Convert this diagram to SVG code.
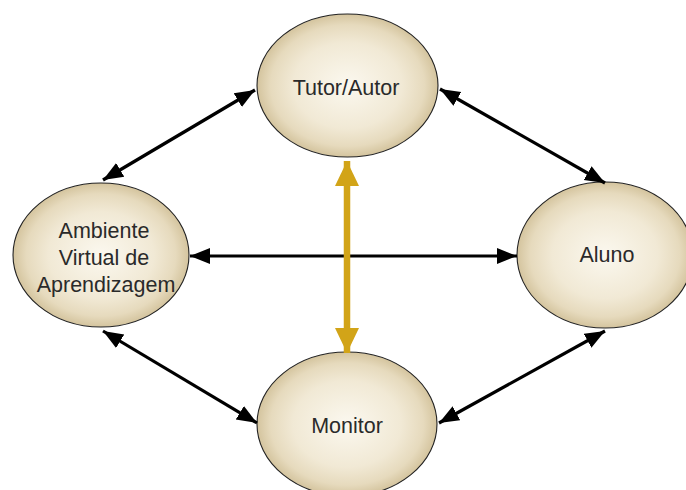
<svg xmlns="http://www.w3.org/2000/svg" width="686" height="490" viewBox="0 0 686 490">
<defs>
<radialGradient id="g" cx="50%" cy="50%" r="50%">
<stop offset="0" stop-color="#fbf8ef"/>
<stop offset="0.6" stop-color="#f1e9d5"/>
<stop offset="0.85" stop-color="#e6dabd"/>
<stop offset="1" stop-color="#d4c49e"/>
</radialGradient>
<marker id="ah" markerUnits="userSpaceOnUse" markerWidth="22" markerHeight="18" refX="20" refY="8" orient="auto-start-reverse" viewBox="0 0 22 16">
<path d="M0,0 L20,8 L0,16 Z" fill="#000"/>
</marker>
<marker id="gh" markerUnits="userSpaceOnUse" markerWidth="26" markerHeight="24" refX="25" refY="12" orient="auto-start-reverse" viewBox="0 0 26 24">
<path d="M0,0 L25,12 L0,24 Z" fill="#d2a418"/>
</marker>
<style>
.n ellipse{fill:url(#g);stroke:#222;stroke-width:1.1}
.n text{font-family:"Liberation Sans",Arial,sans-serif;font-size:21.5px;fill:#2a2a2a;text-anchor:middle}
.c line{stroke:#000;stroke-width:3.2;marker-start:url(#ah);marker-end:url(#ah)}
.c line.gold{stroke:#d2a418;stroke-width:6.5;marker-start:url(#gh);marker-end:url(#gh)}
</style>
</defs>
<rect width="686" height="490" fill="#fff"/>
<g id="n-tutor" class="n"><ellipse cx="347.5" cy="85.5" rx="90.5" ry="71.5"/><text x="346" y="95">Tutor/Autor</text></g>
<g id="n-ambiente" class="n"><ellipse cx="101" cy="255" rx="88" ry="72"/><text x="104" y="238">Ambiente</text><text x="104" y="265">Virtual de</text><text x="106" y="292">Aprendizagem</text></g>
<g id="n-aluno" class="n"><ellipse cx="605" cy="255" rx="88" ry="73"/><text x="607" y="262">Aluno</text></g>
<g id="n-monitor" class="n"><ellipse cx="347" cy="424" rx="90" ry="72"/><text x="347" y="433">Monitor</text></g>
<g id="connectors" class="c">
<line x1="255" y1="90" x2="103" y2="180"/>
<line x1="440" y1="89" x2="605" y2="183"/>
<line x1="190" y1="256" x2="517" y2="256"/>
<line x1="103" y1="331" x2="257" y2="423"/>
<line x1="605" y1="331" x2="439" y2="423"/>
<line class="gold" x1="347" y1="161" x2="347" y2="353"/>
</g>
</svg>
